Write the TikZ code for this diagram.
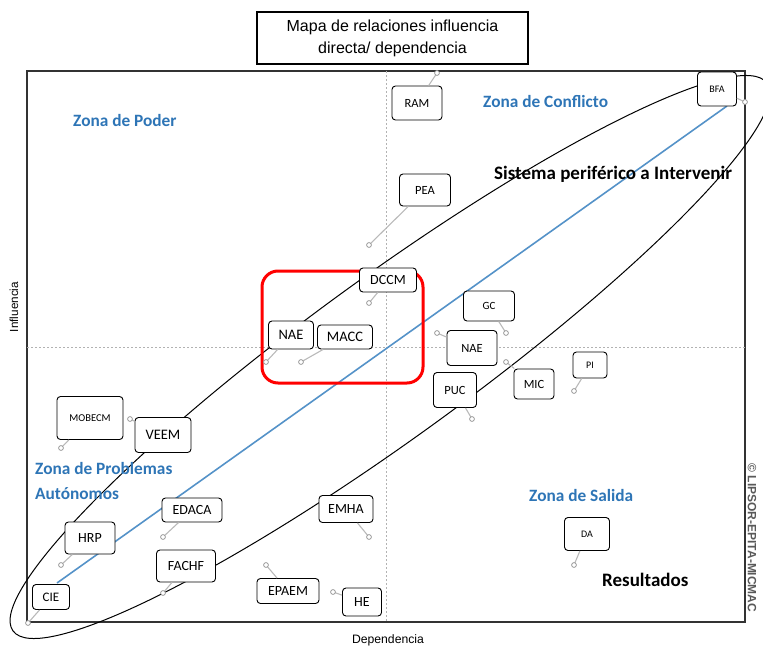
\documentclass[tikz,border=0pt]{standalone}
\usepackage{fontspec}
\setmainfont{Liberation Sans}
\newfontfamily\carl{Carlito}
\definecolor{zoneblue}{RGB}{46,117,182}
\definecolor{lineblue}{RGB}{84,146,200}
\tikzset{
  varbox/.style={draw=black, fill=white, rounded corners=3.5pt, line width=0.9pt, inner sep=0pt},
  zone/.style={text=zoneblue, font=\carl\bfseries\fontsize{17.3}{20}\selectfont, inner sep=0pt},
  bigtxt/.style={text=black, font=\carl\bfseries\fontsize{19}{22}\selectfont, inner sep=0pt},
  pin/.style={draw=gray!80, fill=white, line width=0.8pt},
  leader/.style={draw=gray!55, line width=1.1pt},
}
\begin{document}
\begin{tikzpicture}[x=1pt,y=-1pt]
\useasboundingbox (0,0) rectangle (763,648);
% frame
\draw[gray!40!black, line width=1.3pt] (27,71) rectangle (745,622);
\draw[gray!60, dash pattern=on 2pt off 2pt, line width=0.7pt] (386,71) -- (386,622);
\draw[gray!60, dash pattern=on 2pt off 2pt, line width=0.7pt] (27,347) -- (745,347);
% title
\node[draw=black, line width=1.3pt, minimum width=271pt, minimum height=52pt, align=center,
      font=\fontsize{16}{22}\selectfont, inner sep=0pt] (title) at (392.5,38)
      {Mapa de relaciones influencia\\directa/ dependencia};
% axis labels
\node[rotate=90, font=\fontsize{11.7}{13}\selectfont] (ylab) at (14,307) {Influencia};
\node[font=\fontsize{12.2}{14}\selectfont] (xlab) at (388,640) {Dependencia};
% copyright
\node[rotate=-90, text=gray!70!black, font=\bfseries\fontsize{12}{13}\selectfont] (copy) at (752,538) {© LIPSOR-EPITA-MICMAC};
% ellipse
\begin{scope}[shift={(390,357)}, rotate=36]
\draw[black, line width=1pt] (0,0) ellipse [x radius=466pt, y radius=80pt];
\end{scope}
% blue diagonal
\coordinate (b1) at (57,583);
\coordinate (b2) at (727,106);
\draw[lineblue, line width=1.6pt] (b1) -- (b2);
% red box
\draw[red, line width=3pt, rounded corners=16pt] (262,271) rectangle (423,383);
% zone labels
\node[zone, anchor=west] (zp) at (73,120) {Zona de Poder};
\node[zone, anchor=west] (zc) at (483,101) {Zona de Conflicto};
\node[zone, anchor=west, align=left, font=\carl\bfseries\fontsize{17.3}{25}\selectfont] (za) at (35,481) {Zona de Problemas\\Autónomos};
\node[zone, anchor=west] (zs) at (529,495) {Zona de Salida};
\node[bigtxt, anchor=west] (sp) at (494,174) {Sistema periférico a Intervenir};
\node[bigtxt, anchor=west] (res) at (602,580) {Resultados};
% pins
\coordinate (pRAM) at (437,73);
\coordinate (pBFA) at (745,102);
\coordinate (pPEA) at (369,245);
\coordinate (pDCCM) at (369,303);
\coordinate (pNAEa) at (266,362);
\coordinate (pMACC) at (301,362);
\coordinate (pGC) at (506,333);
\coordinate (pNAEb) at (437,333);
\coordinate (pMIC) at (506,362);
\coordinate (pPUC) at (472,419);
\coordinate (pPI) at (574,391);
\coordinate (pDA) at (574,565);
\coordinate (pMOBECM) at (61,448);
\coordinate (pVEEM) at (130,419);
\coordinate (pHRP) at (61,565);
\coordinate (pEDACA) at (163,537);
\coordinate (pFACHF) at (163,593);
\coordinate (pCIE) at (28,623);
\coordinate (pEMHA) at (369,537);
\coordinate (pEPAEM) at (266,565);
\coordinate (pHE) at (333,592);
% nodes
\node[varbox, minimum width=50pt, minimum height=34pt, font=\carl\fontsize{12.5}{14}\selectfont] (RAM) at (417,103) {RAM};
\node[varbox, minimum width=51pt, minimum height=32pt, font=\carl\fontsize{12.5}{14}\selectfont] (PEA) at (425,190) {PEA};
\node[varbox, minimum width=39pt, minimum height=34pt, font=\carl\fontsize{10}{12}\selectfont] (BFA) at (717,89) {BFA};
\node[varbox, minimum width=57pt, minimum height=24pt, font=\carl\fontsize{14}{15}\selectfont] (DCCM) at (388,280) {DCCM};
\node[varbox, minimum width=45pt, minimum height=28pt, font=\carl\fontsize{14.5}{16}\selectfont] (NAEa) at (291,335) {NAE};
\node[varbox, minimum width=55pt, minimum height=24pt, font=\carl\fontsize{14.5}{16}\selectfont] (MACC) at (345,337) {MACC};
\node[varbox, minimum width=51pt, minimum height=30pt, font=\carl\fontsize{11}{13}\selectfont] (GC) at (489,306) {GC};
\node[varbox, minimum width=50pt, minimum height=35pt, font=\carl\fontsize{12.5}{14}\selectfont] (NAEb) at (472,348) {NAE};
\node[varbox, minimum width=43pt, minimum height=35pt, font=\carl\fontsize{12.5}{14}\selectfont] (PUC) at (455,390) {PUC};
\node[varbox, minimum width=40pt, minimum height=30pt, font=\carl\fontsize{12.5}{14}\selectfont] (MIC) at (534,384) {MIC};
\node[varbox, minimum width=34pt, minimum height=26pt, font=\carl\fontsize{10}{12}\selectfont] (PI) at (590,365) {PI};
\node[varbox, minimum width=45pt, minimum height=33pt, font=\carl\fontsize{10}{12}\selectfont] (DA) at (587,534) {DA};
\node[varbox, minimum width=66pt, minimum height=43pt, font=\carl\fontsize{10.5}{12}\selectfont] (MOBECM) at (90,418) {MOBECM};
\node[varbox, minimum width=56pt, minimum height=35pt, font=\carl\fontsize{14.5}{16}\selectfont] (VEEM) at (163,435) {VEEM};
\node[varbox, minimum width=60pt, minimum height=24pt, font=\carl\fontsize{14}{15}\selectfont] (EDACA) at (192,510) {EDACA};
\node[varbox, minimum width=50pt, minimum height=32pt, font=\carl\fontsize{14}{15}\selectfont] (HRP) at (90,538) {HRP};
\node[varbox, minimum width=59pt, minimum height=32pt, font=\carl\fontsize{14}{15}\selectfont] (FACHF) at (186,566) {FACHF};
\node[varbox, minimum width=37pt, minimum height=25pt, font=\carl\fontsize{13}{14}\selectfont] (CIE) at (51,597) {CIE};
\node[varbox, minimum width=54pt, minimum height=27pt, font=\carl\fontsize{14}{15}\selectfont] (EMHA) at (346,509) {EMHA};
\node[varbox, minimum width=62pt, minimum height=25pt, font=\carl\fontsize{14}{15}\selectfont] (EPAEM) at (288,591) {EPAEM};
\node[varbox, minimum width=39pt, minimum height=28pt, font=\carl\fontsize{14}{15}\selectfont] (HE) at (362,602) {HE};
% leaders and pins
\foreach \n in {RAM,BFA,PEA,DCCM,NAEa,MACC,GC,NAEb,MIC,PUC,PI,DA,MOBECM,VEEM,HRP,EDACA,FACHF,CIE,EMHA,EPAEM,HE}{
  \draw[leader] (p\n) -- (\n);
  \draw[pin] (p\n) circle [radius=2.4pt];
}
\end{tikzpicture}
\end{document}
